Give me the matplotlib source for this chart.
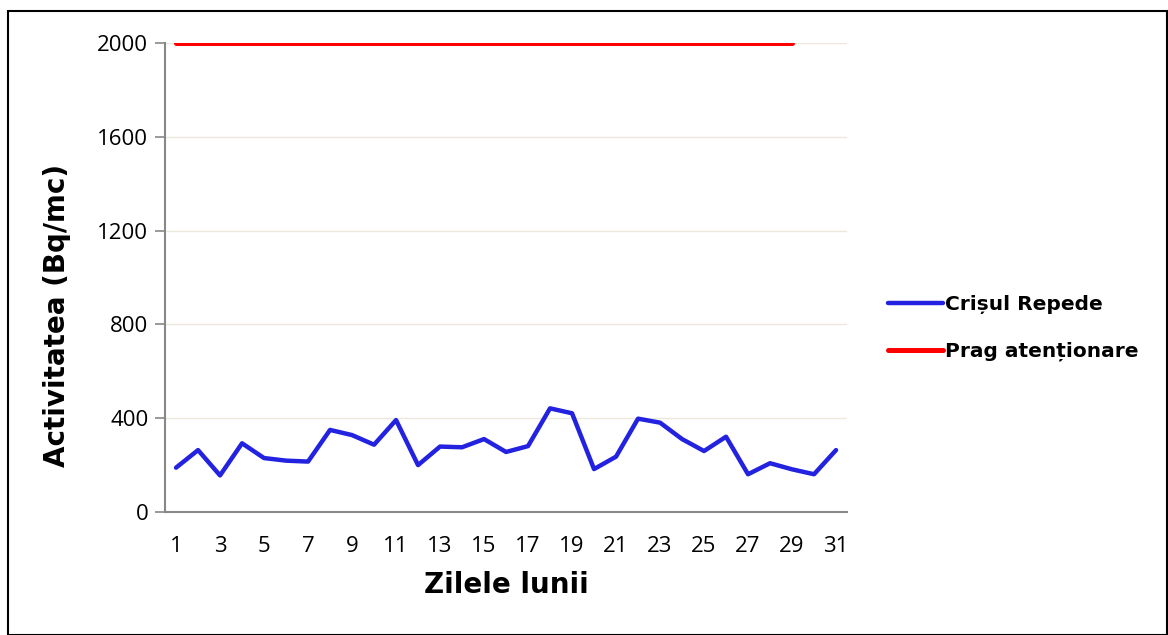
import matplotlib
matplotlib.use("Agg")
import matplotlib.pyplot as plt
from matplotlib.patches import Rectangle

# data
days = list(range(1, 32))
crisul_repede = [189, 264, 156, 293, 230, 219, 215, 350, 328, 287,
                 392, 200, 279, 276, 311, 256, 281, 442, 421, 183,
                 236, 398, 381, 311, 260, 321, 161, 208, 182, 161, 264]
prag_days = list(range(1, 30))
prag_values = [2000] * len(prag_days)
y_ticks = [0, 400, 800, 1200, 1600, 2000]
x_ticks = list(range(1, 32, 2))

plt.rcParams['font.family'] = ['Open Sans', 'DejaVu Sans']

fig = plt.figure(figsize=(11.68, 6.35), dpi=100)
ax = fig.add_axes([0.1413, 0.1937, 0.5839, 0.7386])

ax.plot(days, crisul_repede, color='#2222e0', linewidth=3.2,
        solid_capstyle='round', solid_joinstyle='round', label='Crișul Repede', zorder=3)
ax.plot(prag_days, prag_values, color='#ff0000', linewidth=3.6,
        solid_capstyle='round', label='Prag atenționare', zorder=3)

ax.set_xlim(0.5, 31.5)
ax.set_ylim(0, 2000)
ax.set_yticks(y_ticks)
ax.set_xticks(x_ticks)
ax.tick_params(axis='y', labelsize=16, length=7, color='#888888', width=1.2, pad=5)
ax.tick_params(axis='x', labelsize=16, length=0, pad=17)

ax.yaxis.grid(True, color='#ece9dc', linewidth=1)
ax.set_axisbelow(True)
for s in ['top', 'right']:
    ax.spines[s].set_visible(False)
for s in ['left', 'bottom']:
    ax.spines[s].set_color('#888888')
    ax.spines[s].set_linewidth(1.5)

ax.set_xlabel('Zilele lunii', fontsize=20, fontweight='bold',
              family=['DejaVu Sans'], labelpad=10)
ax.set_ylabel('Activitatea (Bq/mc)', fontsize=20, fontweight='bold',
              family=['DejaVu Sans'])
ax.yaxis.set_label_coords(-0.138, 0.42)

leg = fig.legend(loc='center left', bbox_to_anchor=(0.745, 0.483), frameon=False,
                 handlelength=2.7, handletextpad=0.1, labelspacing=1.35,
                 prop={'family': 'DejaVu Sans', 'weight': 'bold', 'size': 14.5})

# outer chart border
fig.patches.append(Rectangle((8 / 1168, 0.0), 1 - 9 / 1168, 1 - 11 / 635,
                             transform=fig.transFigure, fill=False,
                             edgecolor='black', linewidth=1.5))

fig.savefig('out.png', dpi=100)
